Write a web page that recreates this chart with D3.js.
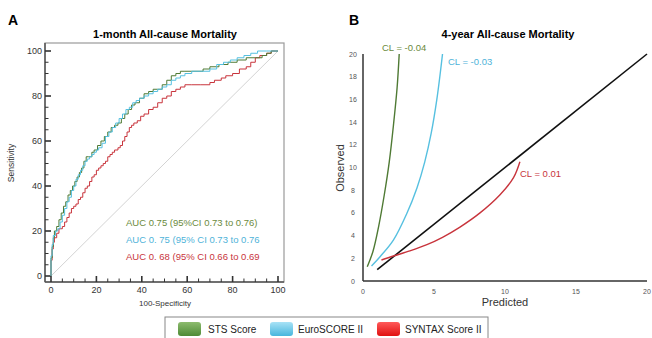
<!DOCTYPE html>
<html>
<head>
<meta charset="utf-8">
<script src="https://cdn.jsdelivr.net/npm/d3@7"></script>
<style>
  body { margin: 0; background: #fff; }
  svg { font-family: "Liberation Sans", Arial, sans-serif; }
</style>
</head>
<body>
<div id="chart"></div>
<script>
// ---- panel A: ROC curves (100-specificity, sensitivity) ----
var stsRoc = [[0,0],[0.5,8],[1,13],[1.5,17],[2.5,20],[3.5,22],[4.5,25],[5.5,28],[6.5,31],[7.5,33],[8.5,36],[9.5,38],[10.5,40],[11.5,42],[12.5,44],[13.5,46],[14.5,48],[15.5,51],[16.5,53],[18,53],[19,55],[20.5,56],[22,58],[23.5,60],[25,62],[26.5,64],[28,66],[29.5,67],[31,68],[32.5,70],[34,72],[35.5,74],[37,76],[39,77],[41,79],[43,81],[45,82],[47,83],[49,83],[51,85],[53,87],[55,89],[57,90],[59,91],[63,91],[67,91],[70,92],[74,93],[78,94],[82,95],[86,96],[90,97],[93,97],[95,98],[97,99],[99,100],[100,100]];
var euroRoc = [[0,0],[0.5,9],[1,14],[2,18],[3,20],[4,21],[5,24],[6,27],[7,30],[8,33],[9,35],[10,38],[11,40],[12,43],[13,45],[14,47],[15,49],[16,51],[17,52],[18,53],[19,54],[20,55],[21,56],[22.5,57],[24,59],[25.5,62],[27,64],[28.5,66],[30,68],[31.5,70],[33,72],[34.5,74],[36,75],[37.5,77],[39,78],[41,79],[43,80],[45,81],[47,82],[49,83],[51,84],[53,85],[55,87],[57,88],[59,89],[62,90],[66,91],[70,91],[73,92],[76,94],[79,95],[82,96],[85,97],[88,98],[91,99],[95,100],[100,100]];
var syntaxRoc = [[0,0],[0.5,7],[1,12],[1.5,15],[2.5,17],[3.5,19],[5,21],[6,22],[7,24],[8,26],[9,28],[10,30],[11,31],[12,32],[13,34],[14,35],[15,37],[16,39],[17,40],[18,42],[19,44],[20,45],[21,47],[22,48],[23,49],[24,50],[25,51],[26,53],[27,54],[28,55],[29.5,56],[30.5,57],[31.5,58],[32.5,60],[33.5,62],[34.5,64],[35.5,66],[36.5,67],[38,68],[39.5,69],[41,71],[43,72],[45,74],[47,75],[49,77],[51,79],[53,80],[55,82],[57,83],[59,84],[62,85],[66,85],[70,85],[72,86],[75,87],[77,88],[80,89],[83,90],[86,92],[88,93],[90,95],[92,97],[95,98],[97,99],[100,100]];
var aucLabels = ["AUC 0.75 (95%CI 0.73 to 0.76)", "AUC 0. 75 (95% CI 0.73 to 0.76", "AUC 0. 68 (95% CI 0.66 to 0.69"];
var rocTicks = [0, 20, 40, 60, 80, 100];

// ---- panel B: calibration curves (predicted, observed) ----
var stsCal = [[0.3,1.26],[0.7,2.6],[1.1,4.8],[1.5,7.6],[1.85,10.5],[2.15,13.8],[2.4,17],[2.55,20]];
var euroCal = [[0.6,1.32],[1.2,2.14],[2.14,3.6],[3.07,5.9],[3.8,8.2],[4.35,10.5],[4.8,13],[5.2,16],[5.6,20]];
var syntaxCal = [[1.3,1.85],[2.14,2.2],[3.3,2.65],[4.5,3.2],[5.6,3.85],[6.83,4.75],[8.24,6.0],[9.65,7.6],[10.6,9.1],[11.05,10.5]];
var idealCal = [[1,1],[20,20]];
var calLabels = ["CL = -0.04", "CL = -0.03", "CL = 0.01"];
var calXTicks = [0, 5, 10, 15, 20];
var calYTicks = [0, 2, 4, 6, 8, 10, 12, 14, 16, 18, 20];

var seriesNames = ["STS Score", "EuroSCORE II", "SYNTAX Score II"];
var lineColors = ["#4f7a34", "#56c0e0", "#c8343c"];
var textColors = ["#6b8a3c", "#4fb3d9", "#c8343c"];
var swatchColors = [["#8dbb6e", "#4e8a35"], ["#a8e2f6", "#47b6dd"], ["#ff5a5a", "#e01010"]];

var svg = d3.select('#chart').append('svg')
  .attr('width', 652)
  .attr('height', 338);

// ================= Panel A =================
var xA = d3.scaleLinear().domain([0, 100]).range([51, 278]);
var yA = d3.scaleLinear().domain([0, 100]).range([276, 51]);

svg.append('text').attr('x', 8).attr('y', 25)
  .attr('font-size', 14).attr('font-weight', 'bold').text('A');
svg.append('text').attr('x', 165).attr('y', 38).attr('text-anchor', 'middle')
  .attr('font-size', 11).attr('font-weight', 'bold').text('1-month All-cause Mortality');

// frame
svg.append('rect').attr('x', 45).attr('y', 43).attr('width', 239).attr('height', 239)
  .attr('fill', 'none').attr('stroke', '#9a9a9a').attr('stroke-width', 1.2);
svg.append('line').attr('x1', 45).attr('x2', 45).attr('y1', 43).attr('y2', 282)
  .attr('stroke', '#555').attr('stroke-width', 1.5);
svg.append('line').attr('x1', 45).attr('x2', 284).attr('y1', 282).attr('y2', 282)
  .attr('stroke', '#555').attr('stroke-width', 1.5);

// ticks (major every 20, minor every 5), drawn from the frame inward
var minorA = d3.range(0, 101, 5);
svg.append('g').selectAll('line').data(minorA).enter().append('line')
  .attr('x1', 45).attr('x2', function(d) { return d % 20 == 0 ? 51 : 48.5; })
  .attr('y1', function(d) { return yA(d); }).attr('y2', function(d) { return yA(d); })
  .attr('stroke', '#333').attr('stroke-width', function(d) { return d % 20 == 0 ? 1.6 : 1; });
svg.append('g').selectAll('line').data(minorA).enter().append('line')
  .attr('y1', 282).attr('y2', function(d) { return d % 20 == 0 ? 276 : 278.5; })
  .attr('x1', function(d) { return xA(d); }).attr('x2', function(d) { return xA(d); })
  .attr('stroke', '#333').attr('stroke-width', function(d) { return d % 20 == 0 ? 1.6 : 1; });

svg.append('g').selectAll('text').data(rocTicks).enter().append('text')
  .attr('x', 42).attr('y', function(d) { return yA(d) + 3; })
  .attr('text-anchor', 'end').attr('font-size', 9).attr('fill', '#333')
  .text(function(d) { return d; });
svg.append('g').selectAll('text').data(rocTicks).enter().append('text')
  .attr('x', function(d) { return xA(d); }).attr('y', 293)
  .attr('text-anchor', 'middle').attr('font-size', 9).attr('fill', '#333')
  .text(function(d) { return d; });

svg.append('text').attr('x', 165).attr('y', 306).attr('text-anchor', 'middle')
  .attr('font-size', 8).attr('fill', '#333').text('100-Specificity');
svg.append('text').attr('transform', 'translate(14,163) rotate(-90)')
  .attr('text-anchor', 'middle').attr('font-size', 8.5).attr('fill', '#333').text('Sensitivity');

// reference diagonal
svg.append('line').attr('x1', xA(0)).attr('y1', yA(0)).attr('x2', xA(100)).attr('y2', yA(100))
  .attr('stroke', '#c8c8c8').attr('stroke-width', 0.8);

var rocLine = d3.line()
  .x(function(d) { return xA(d[0]); })
  .y(function(d) { return yA(d[1]); })
  .curve(d3.curveStepBefore);

[syntaxRoc, stsRoc, euroRoc].forEach(function(s, i) {
  var idx = [2, 0, 1][i];
  svg.append('path').datum(s).attr('d', rocLine)
    .attr('fill', 'none').attr('stroke', lineColors[idx]).attr('stroke-width', 1);
});

svg.append('g').selectAll('text').data(aucLabels).enter().append('text')
  .attr('x', 126).attr('y', function(d, i) { return 226 + i * 17; })
  .attr('font-size', 9.5).attr('fill', function(d, i) { return textColors[i]; })
  .text(function(d) { return d; });

// ================= Panel B =================
var xB = d3.scaleLinear().domain([0, 20]).range([363, 647]);
var yB = d3.scaleLinear().domain([0, 20]).range([281, 54]);

svg.append('text').attr('x', 349).attr('y', 25)
  .attr('font-size', 14).attr('font-weight', 'bold').text('B');
svg.append('text').attr('x', 508).attr('y', 38).attr('text-anchor', 'middle')
  .attr('font-size', 11).attr('font-weight', 'bold').text('4-year All-cause Mortality');

svg.append('line').attr('x1', xB(0)).attr('x2', xB(0)).attr('y1', yB(20)).attr('y2', yB(0))
  .attr('stroke', '#333').attr('stroke-width', 1.5);
svg.append('line').attr('x1', xB(0)).attr('x2', xB(20)).attr('y1', yB(0)).attr('y2', yB(0))
  .attr('stroke', '#333').attr('stroke-width', 1.5);

svg.append('g').selectAll('text').data(calYTicks).enter().append('text')
  .attr('x', 353).attr('y', function(d) { return yB(d) + 2.5; })
  .attr('text-anchor', 'middle').attr('font-size', 7).attr('fill', '#555')
  .text(function(d) { return d; });
svg.append('g').selectAll('text').data(calXTicks).enter().append('text')
  .attr('x', function(d) { return xB(d); }).attr('y', 294)
  .attr('text-anchor', 'middle').attr('font-size', 7).attr('fill', '#555')
  .text(function(d) { return d; });

svg.append('text').attr('x', 505).attr('y', 306).attr('text-anchor', 'middle')
  .attr('font-size', 11).attr('fill', '#333').text('Predicted');
svg.append('text').attr('transform', 'translate(344,168) rotate(-90)')
  .attr('text-anchor', 'middle').attr('font-size', 11).attr('fill', '#333').text('Observed');

var calLine = d3.line()
  .x(function(d) { return xB(d[0]); })
  .y(function(d) { return yB(d[1]); })
  .curve(d3.curveCatmullRom.alpha(0.5));

svg.append('path').datum(idealCal).attr('d', calLine)
  .attr('fill', 'none').attr('stroke', '#111').attr('stroke-width', 1.6);

var calCurves = [stsCal, euroCal, syntaxCal];
calCurves.forEach(function(s, i) {
  svg.append('path').datum(s).attr('d', calLine)
    .attr('fill', 'none').attr('stroke', lineColors[i]).attr('stroke-width', 1.4);
});

var calLabelPos = [[382, 51], [448, 64.5], [520, 177]];
svg.append('g').selectAll('text').data(calLabels).enter().append('text')
  .attr('x', function(d, i) { return calLabelPos[i][0]; })
  .attr('y', function(d, i) { return calLabelPos[i][1]; })
  .attr('font-size', 9.5).attr('fill', function(d, i) { return textColors[i]; })
  .text(function(d) { return d; });

// ================= Legend =================
var defs = svg.append('defs');
swatchColors.forEach(function(c, i) {
  var g = defs.append('linearGradient').attr('id', 'sw' + i)
    .attr('x1', 0).attr('y1', 0).attr('x2', 0).attr('y2', 1);
  g.append('stop').attr('offset', '0%').attr('stop-color', c[0]);
  g.append('stop').attr('offset', '100%').attr('stop-color', c[1]);
});

svg.append('rect').attr('x', 165).attr('y', 317).attr('width', 323).attr('height', 30)
  .attr('fill', '#fff').attr('stroke', '#888').attr('stroke-width', 1);

var legendX = [178, 270, 377];
var leg = svg.append('g').selectAll('g').data(seriesNames).enter().append('g')
  .attr('transform', function(d, i) { return 'translate(' + legendX[i] + ',322)'; });
leg.append('rect').attr('width', 23).attr('height', 14).attr('rx', 3)
  .attr('fill', function(d, i) { return 'url(#sw' + i + ')'; });
leg.append('text').attr('x', function(d, i) { return [30, 28, 28][i]; }).attr('y', 11)
  .attr('font-size', 10).attr('fill', '#222')
  .text(function(d) { return d; });
</script>
</body>
</html>
